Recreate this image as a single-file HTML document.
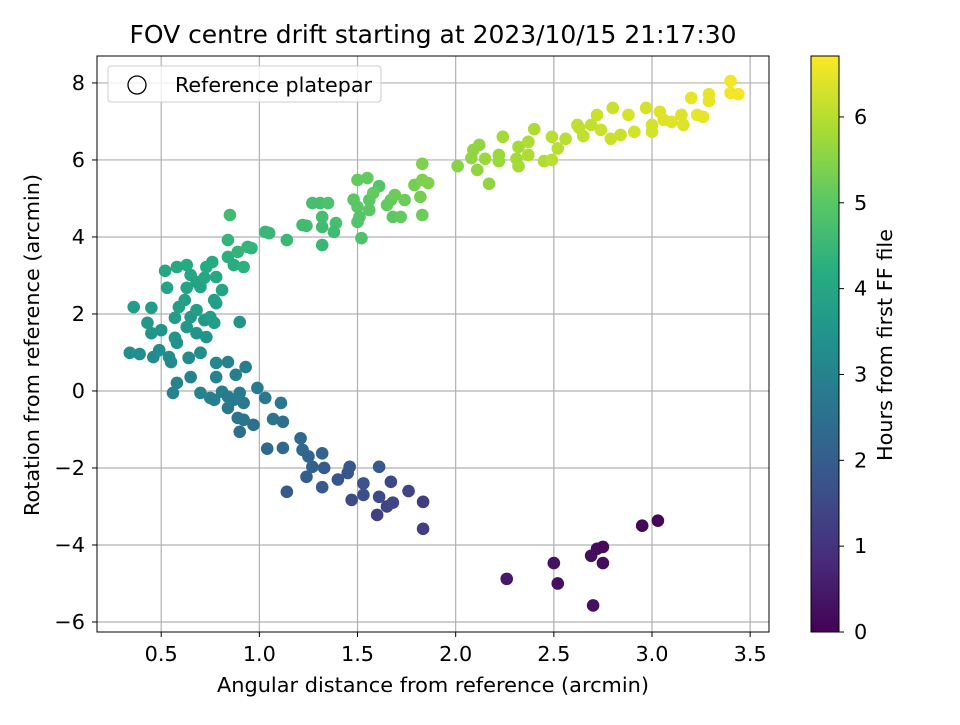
<!DOCTYPE html>
<html><head><meta charset="utf-8"><style>
body{margin:0;background:#fff}
svg text{font-family:"DejaVu Sans","Liberation Sans",sans-serif;fill:#000}
</style></head><body>
<svg id="chart" width="960" height="720" viewBox="0 0 960 720" xmlns="http://www.w3.org/2000/svg">
<rect width="960" height="720" fill="#fff"/>
<text x="433" y="43" text-anchor="middle" font-size="25" textLength="607" lengthAdjust="spacingAndGlyphs">FOV centre drift starting at 2023/10/15 21:17:30</text>
<g id="grid"></g>
<g id="points"></g>
<rect x="97" y="56" width="672" height="576" fill="none" stroke="#000" stroke-width="1"/>
<g id="xticks"></g>
<g id="yticks"></g>
<text x="433" y="692" text-anchor="middle" font-size="20.8" textLength="432" lengthAdjust="spacingAndGlyphs">Angular distance from reference (arcmin)</text>
<text transform="translate(39,345) rotate(-90)" text-anchor="middle" font-size="20.8" textLength="342" lengthAdjust="spacingAndGlyphs">Rotation from reference (arcmin)</text>
<g>
<rect x="108" y="66" width="273" height="36" rx="3" fill="#fff" fill-opacity="0.8" stroke="#ccc"/>
<circle cx="137" cy="85" r="9" fill="none" stroke="#000" stroke-width="1.3"/>
<text x="175" y="92" font-size="20.8" textLength="197" lengthAdjust="spacingAndGlyphs">Reference platepar</text>
</g>
<defs><linearGradient id="vir" x1="0" y1="1" x2="0" y2="0"></linearGradient></defs>
<rect x="811" y="56" width="28" height="576" fill="url(#vir)" stroke="#000" stroke-width="1"/>
<g id="cticks"></g>
<text transform="translate(892,345) rotate(-90)" text-anchor="middle" font-size="20.8" textLength="232" lengthAdjust="spacingAndGlyphs">Hours from first FF file</text>
</svg>
<script>
const xTicks=[0.5,1.0,1.5,2.0,2.5,3.0,3.5];
const xTickLabels=["0.5","1.0","1.5","2.0","2.5","3.0","3.5"];
const yTicks=[-6,-4,-2,0,2,4,6,8];
const cTicks=[0,1,2,3,4,5,6];
// [x, y, hours]
const purpleGroup=[[2.26,-4.88,0.45],[2.50,-4.47,0.35],[2.52,-5.0,0.3],[2.69,-4.28,0.25],[2.72,-4.1,0.2],[2.75,-4.05,0.18],[2.75,-4.47,0.22],[2.70,-5.57,0.3],[2.95,-3.5,0.12],[3.03,-3.37,0.1]];
const blueGroup=[[1.834,-2.88,1.2],[1.834,-3.58,1.25],[1.76,-2.6,1.35],[1.61,-1.97,1.9],[1.67,-2.36,1.5],[1.60,-3.22,1.3],[1.65,-3.0,1.35],[1.68,-2.9,1.4],[1.61,-2.75,1.5],[1.53,-2.7,1.6],[1.47,-2.83,1.5],[1.53,-2.4,1.7],[1.46,-1.97,1.9],[1.45,-2.13,1.8],[1.40,-2.3,1.8],[1.32,-2.5,1.9],[1.32,-1.62,2.2],[1.33,-2.0,2.0],[1.24,-2.23,2.0],[1.27,-1.97,2.1],[1.25,-1.7,2.2],[1.21,-1.23,2.3],[1.22,-1.53,2.3],[1.14,-2.62,1.9],[1.12,-1.48,2.3],[1.04,-1.5,2.3],[1.12,-0.8,2.5],[1.07,-0.73,2.6],[1.11,-0.31,2.7],[1.03,-0.18,2.7],[0.99,0.08,2.8],[0.97,-0.88,2.5],[0.90,-1.06,2.5],[0.92,-0.75,2.6],[0.89,-0.70,2.6],[0.90,-0.05,2.8],[0.92,-0.31,2.7],[0.84,-0.44,2.7],[0.87,-0.23,2.8],[0.93,0.62,2.9],[0.84,0.75,3.0],[0.88,0.42,2.9],[0.78,0.36,3.0],[0.81,-0.02,2.9],[0.77,-0.23,2.9],[0.75,-0.18,2.9],[0.70,-0.05,3.0],[0.65,0.36,3.0],[0.58,0.21,3.0],[0.56,-0.05,3.0],[0.64,0.86,3.1],[0.70,0.99,3.2],[0.78,0.73,3.1],[0.84,-0.15,2.8]];
const tealGroup=[[0.34,0.99,3.3],[0.39,0.96,3.3],[0.46,0.88,3.2],[0.49,1.06,3.3],[0.54,0.88,3.2],[0.55,0.75,3.2],[0.64,0.86,3.2],[0.70,0.99,3.3],[0.43,1.77,3.6],[0.45,1.5,3.5],[0.50,1.58,3.5],[0.57,1.38,3.5],[0.58,1.25,3.4],[0.36,2.18,3.7],[0.45,2.16,3.7],[0.57,1.9,3.7],[0.59,2.18,3.8],[0.62,2.36,3.8],[0.65,1.92,3.6],[0.68,2.1,3.7],[0.72,1.84,3.6],[0.75,1.92,3.7],[0.73,1.4,3.5],[0.68,1.5,3.5],[0.63,1.66,3.6],[0.77,1.77,3.7],[0.78,2.28,3.8],[0.90,1.79,3.5],[0.53,2.68,3.9],[0.52,3.12,4.0],[0.58,3.22,4.0],[0.63,3.27,4.1],[0.65,3.01,4.0],[0.63,2.68,3.9],[0.68,2.83,3.9],[0.70,2.7,3.9],[0.72,2.94,4.0],[0.76,3.35,4.1],[0.73,3.22,4.1],[0.78,2.96,4.0],[0.81,2.62,3.9],[0.77,2.36,3.8],[0.84,3.48,4.3],[0.87,3.27,4.2],[0.89,3.61,4.4],[0.92,3.22,4.3],[0.94,3.74,4.4],[0.96,3.71,4.4],[0.84,3.92,4.4],[0.85,4.57,4.6]];
const greenGroup=[[1.03,4.13,4.5],[1.05,4.1,4.5],[1.14,3.92,4.5],[1.22,4.31,4.6],[1.24,4.29,4.6],[1.27,4.88,4.7],[1.31,4.88,4.7],[1.35,4.88,4.8],[1.32,4.52,4.7],[1.32,4.26,4.6],[1.39,4.36,4.7],[1.38,4.13,4.6],[1.32,3.79,4.5],[1.50,5.48,5.1],[1.55,5.53,5.1],[1.61,5.32,4.9],[1.48,4.97,5.0],[1.50,4.78,5.0],[1.51,4.52,4.9],[1.50,4.39,4.9],[1.56,4.7,5.0],[1.56,4.96,5.0],[1.58,5.14,5.1],[1.52,3.97,4.8],[1.67,4.96,5.1],[1.69,5.09,5.2],[1.65,4.83,5.1],[1.68,4.52,5.0],[1.72,4.52,5.1],[1.74,4.96,5.2],[1.79,5.35,5.3],[1.83,5.48,5.4],[1.86,5.4,5.4],[1.82,5.04,5.3],[1.83,4.57,5.2],[1.83,5.9,5.4]];
const yellowGroup=[[2.01,5.84,5.5],[2.09,6.26,5.6],[2.12,6.39,5.6],[2.08,6.05,5.6],[2.11,5.74,5.6],[2.15,6.03,5.7],[2.17,5.38,5.6],[2.22,6.13,5.7],[2.22,5.97,5.7],[2.24,6.6,5.8],[2.31,6.03,5.8],[2.32,5.84,5.8],[2.32,6.34,5.8],[2.37,6.47,5.9],[2.37,6.13,5.9],[2.40,6.8,5.9],[2.45,5.97,5.9],[2.49,6.0,6.0],[2.49,6.6,6.0],[2.52,6.3,6.0],[2.56,6.55,6.0],[2.62,6.91,6.1],[2.63,6.83,6.1],[2.65,6.62,6.1],[2.69,6.91,6.1],[2.72,7.17,6.2],[2.74,6.78,6.2],[2.79,6.55,6.2],[2.80,7.35,6.2],[2.84,6.65,6.2],[2.88,7.17,6.3],[2.91,6.73,6.3],[2.97,7.35,6.3],[3.0,6.91,6.3],[3.0,6.73,6.3],[3.04,7.25,6.4],[3.06,7.04,6.4],[3.10,6.99,6.4],[3.15,7.17,6.4],[3.16,6.91,6.4],[3.20,7.61,6.5],[3.23,7.17,6.5],[3.26,7.12,6.5],[3.29,7.71,6.5],[3.29,7.53,6.5],[3.40,8.05,6.6],[3.40,7.74,6.6],[3.44,7.71,6.6]];

const NS="http://www.w3.org/2000/svg";
const X0=97,X1=769,Y0=56,Y1=632;
const xMin=0.173,xMax=3.596,yMin=-6.26,yMax=8.70,hMax=6.71;
const sx=v=>X0+(v-xMin)/(xMax-xMin)*(X1-X0);
const sy=v=>Y1-(v-yMin)/(yMax-yMin)*(Y1-Y0);
const sc=v=>Y1-v/hMax*(Y1-Y0);
const vir=[[0,68,1,84],[0.125,71,44,122],[0.25,59,81,139],[0.375,44,113,142],[0.5,33,144,141],[0.625,39,173,129],[0.75,92,200,99],[0.875,170,220,50],[1,253,231,37]];
function cmap(t){t=Math.max(0,Math.min(1,t));for(let i=1;i<vir.length;i++){if(t<=vir[i][0]){const a=vir[i-1],b=vir[i],f=(t-a[0])/(b[0]-a[0]);return `rgb(${Math.round(a[1]+f*(b[1]-a[1]))},${Math.round(a[2]+f*(b[2]-a[2]))},${Math.round(a[3]+f*(b[3]-a[3]))})`;}}return "rgb(253,231,37)";}
function mk(tag,attrs,parent,txt){const e=document.createElementNS(NS,tag);for(const k in attrs)e.setAttribute(k,attrs[k]);if(txt!==undefined)e.textContent=txt;parent.appendChild(e);return e;}
const grid=document.getElementById('grid'),xt=document.getElementById('xticks'),yt=document.getElementById('yticks'),ct=document.getElementById('cticks');
xTicks.forEach((v,i)=>{const x=sx(v);
 const g=mk('line',{x1:x,x2:x,y1:Y0,y2:Y1,stroke:'#b0b0b0','stroke-width':1.2},grid);
 
 
 mk('line',{x1:x,x2:x,y1:Y1,y2:Y1+5,stroke:'#000'},xt);
 const t=mk('text',{x:x,y:Y1+29,'text-anchor':'middle','font-size':20.8},xt,xTickLabels[i]);
 
 });
yTicks.forEach(v=>{const y=sy(v);
 const g=mk('line',{x1:X0,x2:X1,y1:y,y2:y,stroke:'#b0b0b0','stroke-width':1.2},grid);
 
 
 mk('line',{x1:X0-5,x2:X0,y1:y,y2:y,stroke:'#000'},yt);
 const t=mk('text',{x:X0-12,y:y+7,'text-anchor':'end','font-size':20.8},yt,v<0?'\u2212'+(-v):String(v));
 
 });
cTicks.forEach(v=>{const y=sc(v);
 mk('line',{x1:839,x2:844,y1:y,y2:y,stroke:'#000'},ct);
 const t=mk('text',{x:854,y:y+7,'font-size':20.8},ct,String(v));
 
 });
const grad=document.getElementById('vir');
vir.forEach(s=>mk('stop',{offset:s[0],'stop-color':`rgb(${s[1]},${s[2]},${s[3]})`},grad));
const pts=document.getElementById('points');
[purpleGroup,blueGroup,tealGroup,greenGroup,yellowGroup].forEach(grp=>grp.forEach(p=>{
 const c=mk('circle',{cx:sx(p[0]),cy:sy(p[1]),r:6.3,fill:cmap(p[2]/hMax)},pts);
 
 }));
</script>
</body></html>
